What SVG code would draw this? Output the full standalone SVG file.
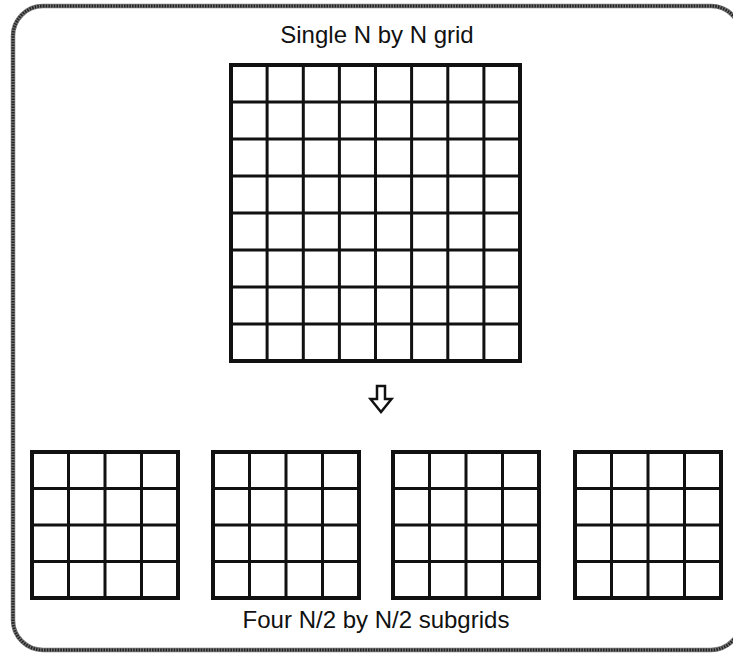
<svg xmlns="http://www.w3.org/2000/svg" width="733" height="653" viewBox="0 0 733 653">
  <style>
    .frame { fill: none; stroke: #777; stroke-width: 4.5; }
    .frame-dots { fill: none; stroke: #222; stroke-width: 3; stroke-dasharray: 1.5 1.2; }
    .outer { fill: #fff; stroke: #111; stroke-width: 4; }
    .inner { fill: none; stroke: #111; stroke-width: 3; }
    .label { font-family: "Liberation Sans", Arial, sans-serif; font-size: 24px; fill: #111; text-anchor: middle; }
  </style>
  <rect x="0" y="0" width="733" height="653" fill="#fff"/>
  <rect class="frame" x="13" y="6" width="728" height="644" rx="30" ry="30"/>
  <rect class="frame-dots" x="13" y="6" width="728" height="644" rx="30" ry="30"/>

  <g id="big-grid">
    <rect class="outer" x="231" y="65" width="289" height="296"/>
    <path class="inner" d="M267.1 65V361M303.3 65V361M339.4 65V361M375.5 65V361M411.6 65V361M447.8 65V361M483.9 65V361
      M231 102H520M231 139H520M231 176H520M231 213H520M231 250H520M231 287H520M231 324H520"/>
  </g>
  <text class="label" x="377" y="43">Single N by N grid</text>

  <g id="connectors">
    <polygon points="377,386 385,386 385,399 391.5,399 381,412 370.5,399 377,399" fill="#fff" stroke="#111" stroke-width="2.5" stroke-linejoin="miter"/>
  </g>

  <g id="subgrid-1">
    <rect class="outer" x="32" y="452" width="146" height="146"/>
    <path class="inner" d="M68.5 452V598M105 452V598M141.5 452V598M32 488.5H178M32 525H178M32 561.5H178"/>
  </g>
  <g id="subgrid-2">
    <rect class="outer" x="213" y="452" width="146" height="146"/>
    <path class="inner" d="M249.5 452V598M286 452V598M322.5 452V598M213 488.5H359M213 525H359M213 561.5H359"/>
  </g>
  <g id="subgrid-3">
    <rect class="outer" x="393" y="452" width="146" height="146"/>
    <path class="inner" d="M429.5 452V598M466 452V598M502.5 452V598M393 488.5H539M393 525H539M393 561.5H539"/>
  </g>
  <g id="subgrid-4">
    <rect class="outer" x="575" y="452" width="146" height="146"/>
    <path class="inner" d="M611.5 452V598M648 452V598M684.5 452V598M575 488.5H721M575 525H721M575 561.5H721"/>
  </g>
  <text class="label" x="376" y="628">Four N/2 by N/2 subgrids</text>
</svg>
